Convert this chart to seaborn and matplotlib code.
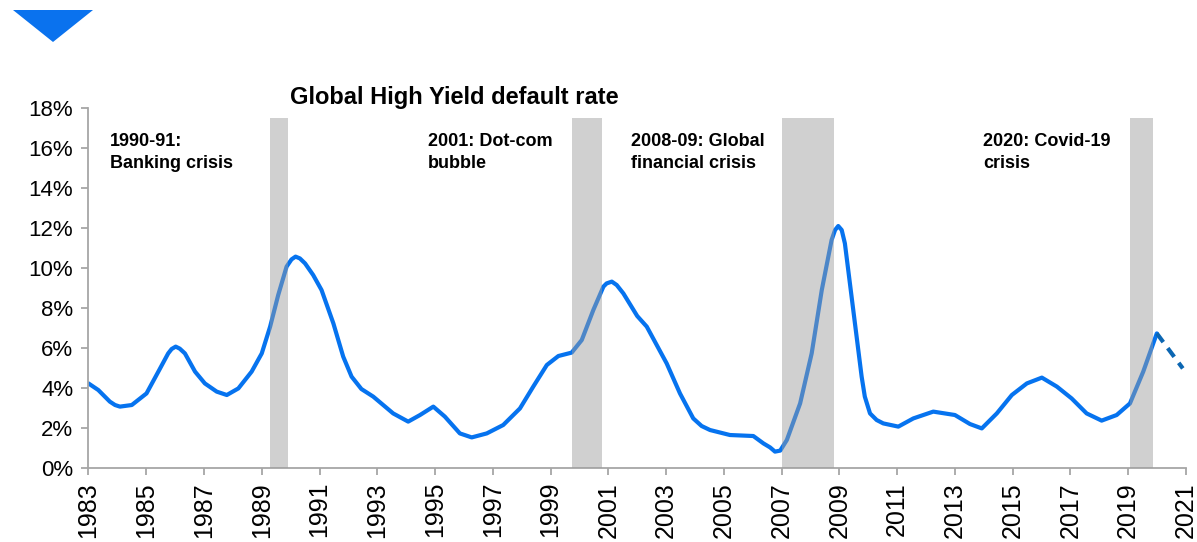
import matplotlib
matplotlib.use("Agg")
import matplotlib.pyplot as plt
from matplotlib.patches import Polygon
import seaborn as sns
import pandas as pd

# ---- data ----
years = [1983.0, 1983.34, 1983.74, 1983.92, 1984.09, 1984.5, 1985.01, 1985.42, 1985.76, 1985.88,
         1986.02, 1986.16, 1986.34, 1986.69, 1987.03, 1987.44, 1987.79, 1988.19, 1988.65, 1989.0,
         1989.29, 1989.57, 1989.86, 1990.03, 1990.17, 1990.32, 1990.5, 1990.78, 1991.07, 1991.48,
         1991.82, 1992.11, 1992.45, 1992.86, 1993.55, 1994.07, 1994.48, 1994.94, 1995.34, 1995.86,
         1996.27, 1996.79, 1997.36, 1997.94, 1998.4, 1998.87, 1999.27, 1999.73, 2000.08, 2000.48,
         2000.83, 2000.94, 2001.12, 2001.29, 2001.52, 2002.0, 2002.33, 2003.02, 2003.48, 2003.94,
         2004.23, 2004.52, 2005.21, 2006.02, 2006.37, 2006.6, 2006.77, 2006.95, 2007.18, 2007.64,
         2008.04, 2008.39, 2008.73, 2008.85, 2008.96, 2009.08, 2009.19, 2009.48, 2009.77, 2009.88,
         2010.06, 2010.29, 2010.52, 2011.04, 2011.56, 2012.25, 2013.0, 2013.52, 2013.93, 2014.45,
         2014.97, 2015.49, 2016.01, 2016.53, 2017.04, 2017.56, 2018.08, 2018.6, 2019.06, 2019.52,
         2019.99]
default_rate = [4.23, 3.9, 3.32, 3.15, 3.07, 3.15, 3.73, 4.82, 5.73, 5.95,
                6.07, 5.97, 5.73, 4.82, 4.23, 3.82, 3.65, 3.98, 4.82, 5.73,
                7.07, 8.65, 10.07, 10.43, 10.57, 10.48, 10.23, 9.65, 8.9, 7.23,
                5.57, 4.57, 3.95, 3.57, 2.73, 2.32, 2.65, 3.07, 2.57, 1.73,
                1.53, 1.73, 2.15, 2.98, 4.07, 5.15, 5.6, 5.77, 6.4, 7.9,
                9.07, 9.23, 9.32, 9.15, 8.73, 7.6, 7.07, 5.23, 3.73, 2.48,
                2.1, 1.9, 1.65, 1.6, 1.23, 1.03, 0.82, 0.87, 1.4, 3.23,
                5.73, 8.9, 11.4, 11.9, 12.1, 11.9, 11.23, 7.9, 4.57, 3.57,
                2.73, 2.4, 2.23, 2.07, 2.48, 2.82, 2.65, 2.2, 1.98, 2.73,
                3.65, 4.23, 4.52, 4.07, 3.48, 2.73, 2.37, 2.65, 3.23, 4.82,
                6.73]
forecast_years = [2019.99, 2020.89]
forecast_rate = [6.73, 4.98]

crisis_start = [1989.28, 1999.75, 2007.02, 2019.06]
crisis_end = [1989.90, 2000.79, 2008.81, 2019.85]
crisis_labels = ["1990-91:\nBanking crisis", "2001: Dot-com\nbubble",
                 "2008-09: Global\nfinancial crisis", "2020: Covid-19\ncrisis"]
label_x = [1983.74, 1994.76, 2001.77, 2013.98]

x_ticks = list(range(1983, 2022, 2))
y_ticks = [0, 2, 4, 6, 8, 10, 12, 14, 16, 18]
y_tick_labels = ["0%", "2%", "4%", "6%", "8%", "10%", "12%", "14%", "16%", "18%"]
title = "Global High Yield default rate"

# ---- style ----
sns.set_theme(style="white")
plt.rcParams["font.family"] = ["Liberation Sans", "DejaVu Sans"]

fig = plt.figure(figsize=(11.97, 5.42), dpi=100)
ax = fig.add_axes([0.0739, 0.1365, 0.9169, 0.6642])

df = pd.DataFrame({"year": years, "rate": default_rate})
df_f = pd.DataFrame({"year": forecast_years, "rate": forecast_rate})

line_color = "#0673ef"
sns.lineplot(data=df, x="year", y="rate", ax=ax, color=line_color, lw=3.0,
             sort=False, solid_capstyle="round", solid_joinstyle="round")
sns.lineplot(data=df_f, x="year", y="rate", ax=ax, color="#0b66b2", lw=3.0,
             linestyle=(0, (2.6, 1.8)), sort=False)

for s, e in zip(crisis_start, crisis_end):
    ax.axvspan(s, e, ymin=0, ymax=17.5 / 18, color="#9c9c9c", alpha=0.47, lw=0, zorder=5)

for lx, lab in zip(label_x, crisis_labels):
    ax.text(lx, 16.75, lab, ha="left", va="top", fontsize=13, fontweight="bold",
            color="black", linespacing=1.4)

ax.set_xlim(1983, 2021)
ax.set_ylim(0, 18)
ax.set_xticks(x_ticks)
ax.set_xticklabels([str(t) for t in x_ticks], rotation=90)
ax.set_yticks(y_ticks)
ax.set_yticklabels(y_tick_labels)
ax.set_xlabel("")
ax.set_ylabel("")

for side in ["top", "right"]:
    ax.spines[side].set_visible(False)
for side in ["left", "bottom"]:
    ax.spines[side].set_color("#a6a6a6")
    ax.spines[side].set_linewidth(1.3)

ax.tick_params(axis="both", which="major", bottom=True, left=True, direction="out",
               color="#a6a6a6", width=1.3, labelcolor="black")
ax.tick_params(axis="y", length=5, pad=6, labelsize=16)
ax.tick_params(axis="x", length=5, pad=5, labelsize=18)

fig.text(0.3797, 0.821, title, ha="center", va="center", fontsize=17, fontweight="bold",
         color="black")

tri = Polygon([[13 / 1197, 1 - 10 / 542], [93 / 1197, 1 - 10 / 542], [53 / 1197, 1 - 42 / 542]],
              closed=True, transform=fig.transFigure, color="#0a72ee", lw=0)
fig.patches.append(tri)

fig.savefig("out.png", dpi=100)
